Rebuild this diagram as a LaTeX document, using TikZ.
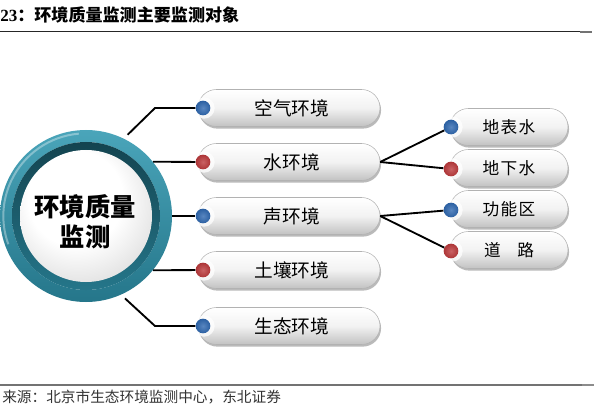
\documentclass[tikz,border=0pt]{standalone}
\usepackage{fontspec}
\setmainfont{Liberation Serif}
\newfontfamily\cjk{Noto Sans CJK SC}
\newfontfamily\cjkls[LetterSpace=8]{Noto Sans CJK SC}
\usetikzlibrary{shadows}
\definecolor{ringA}{HTML}{4AA5BA}
\definecolor{ringB}{HTML}{25768A}
\definecolor{ringC}{HTML}{1A5A6A}
\definecolor{dotblue}{HTML}{2F68B0}
\definecolor{dotred}{HTML}{BC3A3C}
\pgfdeclareradialshading{spherewhite}{\pgfpoint{-6bp}{10bp}}{color(0bp)=(white); color(18bp)=(white); color(32bp)=(black!12); color(44bp)=(black!33); color(56bp)=(black!55)}
\tikzset{
  pill/.style={rounded corners=13.8pt, minimum height=27.75pt, inner sep=0pt,
     top color=white, bottom color=black!24, middle color=black!5, draw=black!30, line width=0.4pt,
     drop shadow={shadow xshift=0.8pt, shadow yshift=-1.6pt, fill=black!60, opacity=0.45}},
  lpill/.style={pill, minimum width=136.5pt, font=\cjk\fontsize{14}{16}\selectfont},
  rpill/.style={pill, minimum width=88.5pt, font=\cjkls\fontsize{12.5}{14}\selectfont},
  dotb/.style={circle, minimum size=11pt, inner sep=0pt, inner color=dotblue!80!white, outer color=dotblue!92!black},
  dotr/.style={circle, minimum size=11pt, inner sep=0pt, inner color=dotred!80!white, outer color=dotred!92!black},
  halo/.style={circle, minimum size=16pt, inner sep=0pt, fill=white, opacity=0.75},
  conn/.style={line width=1.4pt, black},
}
\begin{document}
\begin{tikzpicture}[x=0.75pt,y=-0.75pt]
\useasboundingbox (0,0) rectangle (599,406);
% title and rules
\node[anchor=west, inner sep=0pt, font=\bfseries\fontsize{12.8}{14}\selectfont] (title) at (0,15) {23{\cjk\bfseries ：环境质量监测主要监测对象}};
\draw[line width=1.1pt, black!85] (0,31.5) -- (580,31.5);
\draw[line width=2.2pt, black!55] (580,32) -- (592,32);
\draw[line width=0.8pt, black!55] (0,385) -- (582,385);
\draw[line width=1.8pt, black!45] (582,385) -- (594,385);
\node[anchor=west, inner sep=0pt, font=\cjk\fontsize{11}{13}\selectfont, text=black!80] (src) at (2,397) {来源：北京市生态环境监测中心，东北证券};

% central circle
\node[circle, minimum size=129pt, inner sep=0pt] (c) at (86,216) {};
\shade[top color=ringA, bottom color=ringB, even odd rule] (c.center) circle (64.5pt) circle (55.5pt);
\draw[white, opacity=0.35, line width=1.5pt] (c.center) ++(95:62pt) arc[start angle=95, end angle=200, radius=62pt];
\shade[top color=ringC!75!black, bottom color=ringB] (c.center) circle (55.5pt);
\shade[shading=spherewhite] (c.center) circle (49.5pt);
\node[font=\cjk\bfseries\fontsize{19}{22.5}\selectfont, align=center, inner sep=0pt] (ctext) at (85,222) {环境质量\\监测};

% left pills
\node[lpill] (p1) at (289,108) {\hspace*{4pt}空气环境};
\node[lpill] (p2) at (289,162) {\hspace*{4pt}水环境};
\node[lpill] (p3) at (289,216) {\hspace*{4pt}声环境};
\node[lpill] (p4) at (289,270) {\hspace*{4pt}土壤环境};
\node[lpill] (p5) at (289,326) {\hspace*{4pt}生态环境};
% right pills
\node[rpill] (q1) at (509,127) {地表水};
\node[rpill] (q2) at (509,168) {地下水};
\node[rpill] (q3) at (509,209) {功能区};
\node[rpill] (q4) at (509,250) {道\hspace{1em}路};

% halos and dots
\foreach \n/\x/\y in {h1/203/108,h2/203/162,h3/203/216,h4/203/270,h5/203/326,g1/451/127,g2/451/169,g3/451/210,g4/451/251}
  \node[halo] (\n) at (\x+1,\y) {};
\node[dotb] (d1) at (203,108) {};
\node[dotr] (d2) at (203,162) {};
\node[dotb] (d3) at (203,216) {};
\node[dotr] (d4) at (203,270) {};
\node[dotb] (d5) at (203,326) {};
\node[dotb] (e1) at (451,127) {};
\node[dotr] (e2) at (451,169) {};
\node[dotb] (e3) at (451,210) {};
\node[dotr] (e4) at (451,251) {};

% connectors
\coordinate (k1) at (155,108);
\coordinate (k5) at (155,326);
\draw[conn, shorten <=4pt] (c.64) -- (k1) -- (d1);
\draw[conn] (c.39) -- (d2);
\draw[conn] (c.0) -- (d3);
\draw[conn] (c.-39) -- (d4);
\draw[conn, shorten <=4pt] (c.-66) -- (k5) -- (d5);
\draw[conn] (p2.east) -- (e1);
\draw[conn] (p2.east) -- (e2);
\draw[conn] (p3.east) -- (e3);
\draw[conn] (p3.east) -- (e4);
\end{tikzpicture}
\end{document}
